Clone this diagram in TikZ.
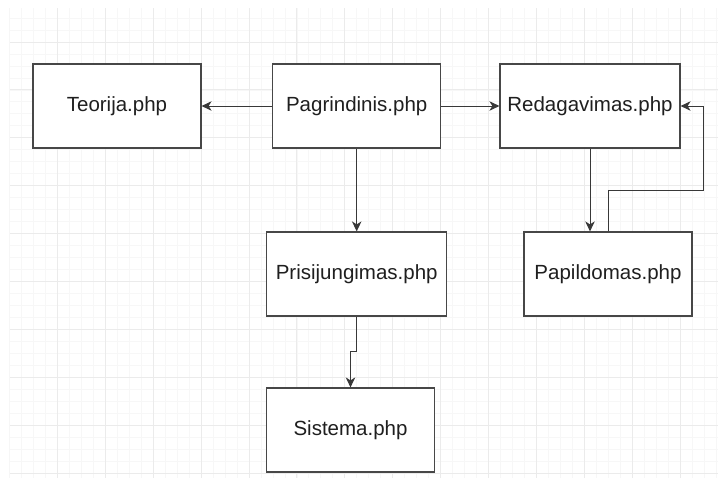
\documentclass[tikz,border=0pt]{standalone}
\usepackage{fontspec}
\setmainfont{Liberation Sans}
\usetikzlibrary{arrows.meta}
\definecolor{minorgray}{HTML}{F7F7F7}
\definecolor{majorgray}{HTML}{EBEBEB}
\begin{document}
\begin{tikzpicture}[x=1pt,y=1pt,
    pagebox/.style={draw=black!72,line width=1.2pt,fill=white,text=black!88,
        minimum height=84,font=\fontsize{20.5}{24}\selectfont},
    link/.style={draw=black!78,line width=1pt,
        -{Stealth[length=10pt,width=9.5pt,inset=3pt]}},]
    \useasboundingbox (0,0) rectangle (718,-477);
    \begin{scope}[shift={(9.5,-42)}]
        \clip (0,34) rectangle (708.5,-435);
        \draw[minorgray,line width=0.8pt] (0,-440) grid[step=11.975] (712,40);
        \draw[majorgray,line width=1pt] (0,-440) grid[step=47.9] (712,40);
    \end{scope}

    \node[pagebox,minimum width=168] (teo) at (117,-106) {Teorija.php};
    \node[pagebox,minimum width=168] (pag) at (356.7,-106) {Pagrindinis.php};
    \node[pagebox,minimum width=180] (red) at (590,-106) {Redagavimas.php};
    \node[pagebox,minimum width=180] (pri) at (356.7,-274) {Prisijungimas.php};
    \node[pagebox,minimum width=168] (pap) at (608,-274) {Papildomas.php};
    \node[pagebox,minimum width=167.6] (sis) at (350.5,-430) {Sistema.php};

    \coordinate (loop) at (703.3,-190);
    \coordinate (jog) at (356.7,-351.7);

    \draw[link] (pag) -- (teo);
    \draw[link] (pag) -- (red);
    \draw[link] (pag.south) -- (pri.north);
    \draw[link] (red.south) -- (red.south |- pap.north);
    \draw[link] (pap.north) |- (loop) |- (red.east);
    \draw[link] (pri.south) -- (jog) -| (sis.north);
\end{tikzpicture}
\end{document}
